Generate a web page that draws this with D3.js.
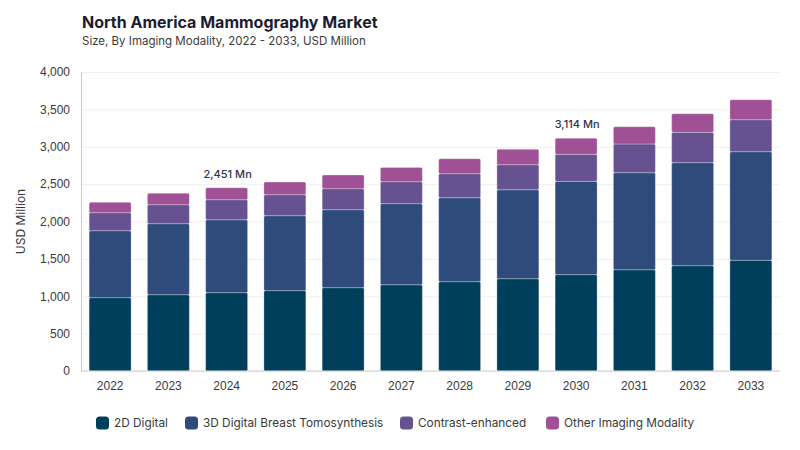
<!DOCTYPE html>
<meta charset="utf-8">
<style>
  body { margin: 0; background: #fff; }
  svg { font-family: Inter, "DejaVu Sans", sans-serif; }
  .grid line { stroke: #efefef; }
  .grid .domain { display: none; }
  .tick text { fill: #3a3a3a; font-size: 12px; }
</style>
<svg width="800" height="450"></svg>
<script src="https://d3js.org/d3.v7.min.js"></script>
<script>
  var years = ["2022", "2023", "2024", "2025", "2026", "2027", "2028", "2029", "2030", "2031", "2032", "2033"];
  var digital2d = [981, 1021, 1048, 1075, 1115, 1154, 1195, 1235, 1289, 1355, 1409, 1481];
  var tomo3d = [896, 950, 976, 1003, 1043, 1085, 1123, 1190, 1248, 1298, 1378, 1453];
  var contrast = [241, 254, 268, 281, 281, 294, 322, 335, 361, 384, 406, 428];
  var other = [139, 152, 159, 169, 183, 191, 200, 205, 216, 231, 249, 267];
  var seriesNames = ["2D Digital", "3D Digital Breast Tomosynthesis", "Contrast-enhanced", "Other Imaging Modality"];
  var colors = ["#003f5c", "#2f4b7c", "#665191", "#a05195"];
  var labelled = ["2024", "2030"];
  var yTicks = [0, 500, 1000, 1500, 2000, 2500, 3000, 3500, 4000];

  var svg = d3.select("svg"),
      pl = 81, pr = 780, pt = 72, pb = 371;

  var rows = years.map(function(y, i) {
    return { year: y, a: digital2d[i], b: tomo3d[i], c: contrast[i], d: other[i] };
  });
  var stack = d3.stack().keys(["a", "b", "c", "d"])(rows);

  var x = d3.scaleBand().domain(years).range([pl, pr]).paddingInner(0.28).paddingOuter(0.14);
  var y = d3.scaleLinear().domain([0, 4000]).range([pb, pt]);

  // title
  svg.append("text").attr("x", 82).attr("y", 28)
    .attr("font-size", 16).attr("font-weight", 700).attr("fill", "#1c1c30")
    .text("North America Mammography Market");
  svg.append("text").attr("x", 82).attr("y", 45)
    .attr("font-size", 11.5).attr("fill", "#3a3a3a")
    .text("Size, By Imaging Modality, 2022 - 2033, USD Million");

  // grid
  svg.append("g").attr("class", "grid")
    .attr("transform", "translate(" + pl + ",0)")
    .call(d3.axisRight(y).tickValues(yTicks).tickSize(pr - pl).tickFormat(""));

  // y axis
  var ya = svg.append("g").attr("transform", "translate(" + pl + ",0)")
    .call(d3.axisLeft(y).tickValues(yTicks).tickSize(0).tickPadding(11).tickFormat(d3.format(",")));
  ya.select(".domain").attr("stroke", "#cccccc");

  svg.append("text")
    .attr("transform", "translate(25," + ((pt + pb) / 2) + ") rotate(-90)")
    .attr("text-anchor", "middle").attr("font-size", 12).attr("fill", "#3a3a3a")
    .text("USD Million");

  // bars
  svg.append("g").selectAll("g")
    .data(stack).enter().append("g")
    .attr("fill", function(d, i) { return colors[i]; })
    .selectAll("rect")
    .data(function(d) { return d; }).enter().append("rect")
    .attr("x", function(d) { return x(d.data.year); })
    .attr("y", function(d) { return y(d[1]); })
    .attr("width", x.bandwidth())
    .attr("height", function(d) { return y(d[0]) - y(d[1]); })
    .attr("rx", 1.5)
    .attr("stroke", "#ffffff").attr("stroke-opacity", 0.35).attr("stroke-width", 0.8);

  // x axis
  var xa = svg.append("g").attr("transform", "translate(0," + pb + ")")
    .call(d3.axisBottom(x).tickSize(0).tickPadding(10));
  xa.select(".domain").attr("stroke", "#cccccc").attr("d", "M" + pl + ",0H" + pr);

  // totals
  var top4 = stack[3];
  svg.append("g").selectAll("text")
    .data(top4.filter(function(d) { return labelled.indexOf(d.data.year) >= 0; }))
    .enter().append("text")
    .attr("x", function(d) { return x(d.data.year) + x.bandwidth() / 2 + 1; })
    .attr("y", function(d) { return y(d[1]) - 10; })
    .attr("text-anchor", "middle").attr("font-size", 11).attr("font-weight", 500).attr("fill", "#33334a")
    .text(function(d) { return d3.format(",")(d[1]) + " Mn"; });

  // legend
  var legendX = [96, 185, 400, 546];
  var lg = svg.append("g").selectAll("g")
    .data(seriesNames).enter().append("g")
    .attr("transform", function(d, i) { return "translate(" + legendX[i] + ",423)"; });
  lg.append("rect").attr("x", 0).attr("y", -6.5).attr("width", 13).attr("height", 13).attr("rx", 3.5)
    .attr("fill", function(d, i) { return colors[i]; });
  lg.append("text").attr("x", 18).attr("dy", "0.35em")
    .attr("font-size", 11.8).attr("fill", "#3a3a3a")
    .text(function(d) { return d; });
</script>
